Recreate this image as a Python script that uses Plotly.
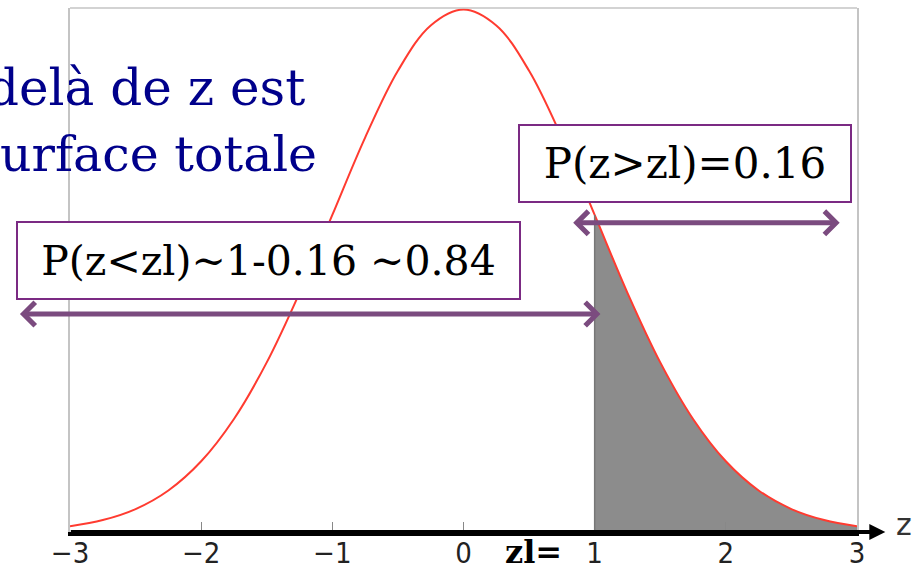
import plotly.graph_objects as go

# z values and density (standard normal curve)
z_values = [-3.0, -2.75, -2.5, -2.25, -2.0, -1.75, -1.5, -1.25, -1.0, -0.75, -0.5, -0.25,
            0.0, 0.25, 0.5, 0.75, 1.0, 1.25, 1.5, 1.75, 2.0, 2.25, 2.5, 2.75, 3.0]
density = [0.0044, 0.0091, 0.0175, 0.0317, 0.0540, 0.0863, 0.1295, 0.1826, 0.2420, 0.3011,
           0.3521, 0.3867, 0.3989, 0.3867, 0.3521, 0.3011, 0.2420, 0.1826, 0.1295, 0.0863,
           0.0540, 0.0317, 0.0175, 0.0091, 0.0044]
z1 = 1.0
tick_values = [-3, -2, -1, 0, 1, 2, 3]
label_upper = "P(z>zl)=0.16"
label_lower = "P(z<zl)~1-0.16 ~0.84"
title_line1 = "delà de z est"
title_line2 = "urface totale"

tail_x = [x for x in z_values if x >= z1]
tail_y = [y for x, y in zip(z_values, density) if x >= z1]

fig = go.Figure()
fig.add_trace(go.Scatter(x=tail_x, y=tail_y, mode="lines", fill="tozeroy",
                         fillcolor="#8c8c8c", line=dict(width=0, shape="spline"),
                         hoverinfo="skip", showlegend=False))
fig.add_trace(go.Scatter(x=z_values, y=density, mode="lines",
                         line=dict(color="#ff3b30", width=2, shape="spline"),
                         showlegend=False))

fig.add_shape(type="line", xref="x", yref="y", x0=z1, x1=z1, y0=0, y1=tail_y[0],
              line=dict(color="#777777", width=1.5))
fig.add_shape(type="line", xref="paper", yref="paper", x0=0, x1=1, y0=1, y1=1,
              line=dict(color="#c4c4c4", width=1.5))

serif = "DejaVu Serif"
purple_arrow = "#7b4b7f"
purple_box = "#7b2a83"
blue = "#00008b"

ann = []
# blue title text (clipped at left edge, as in the source slide)
ann.append(dict(xref="paper", yref="paper", x=-0.108, y=0.848, xanchor="left", yanchor="middle",
                text=title_line1, showarrow=False, font=dict(family=serif, size=50, color=blue)))
ann.append(dict(xref="paper", yref="paper", x=-0.091, y=0.720, xanchor="left", yanchor="middle",
                text=title_line2, showarrow=False, font=dict(family=serif, size=49, color=blue)))
# arrows
ann.append(dict(xref="paper", yref="paper", x=0.674, y=0.416, axref="pixel", ayref="pixel",
                ax=-582, ay=0, text="", showarrow=True, arrowhead=4, startarrowhead=4,
                arrowside="end+start", arrowwidth=5, arrowsize=0.9, startarrowsize=0.9,
                arrowcolor=purple_arrow, standoff=0, startstandoff=0))
ann.append(dict(xref="paper", yref="paper", x=0.978, y=0.590, axref="pixel", ayref="pixel",
                ax=-268, ay=0, text="", showarrow=True, arrowhead=4, startarrowhead=4,
                arrowside="end+start", arrowwidth=5, arrowsize=0.9, startarrowsize=0.9,
                arrowcolor=purple_arrow, standoff=0, startstandoff=0))
# boxes
ann.append(dict(xref="paper", yref="paper", x=0.781, y=0.703, xanchor="center", yanchor="middle",
                text=label_upper, showarrow=False, bgcolor="white", bordercolor=purple_box,
                borderwidth=2, borderpad=0, width=330, height=75,
                font=dict(family=serif, size=42, color="black")))
ann.append(dict(xref="paper", yref="paper", x=0.252, y=0.518, xanchor="center", yanchor="middle",
                text=label_lower, showarrow=False, bgcolor="white", bordercolor=purple_box,
                borderwidth=2, borderpad=0, width=501, height=75,
                font=dict(family=serif, size=41, color="black")))
# x axis arrow
ann.append(dict(xref="paper", yref="paper", x=1.036, y=0, axref="pixel", ayref="pixel",
                ax=-816, ay=0, text="", showarrow=True, arrowhead=2, arrowsize=0.8,
                arrowwidth=4, arrowcolor="black", standoff=0))
ann.append(dict(xref="paper", yref="paper", x=1.0603, y=0.0134, xanchor="center", yanchor="middle",
                text="z", showarrow=False, font=dict(family="DejaVu Sans", size=30, color="#333333")))
ann.append(dict(xref="paper", yref="paper", x=0.589, y=-0.038, xanchor="center", yanchor="middle",
                text="<b>zl=</b>", showarrow=False,
                font=dict(family=serif, size=32, color="black")))

fig.update_layout(
    width=921, height=570,
    margin=dict(l=70, r=64, t=8, b=38, autoexpand=False),
    paper_bgcolor="white", plot_bgcolor="white",
    annotations=ann,
    xaxis=dict(range=[-3, 3], tickvals=tick_values, ticks="inside", ticklen=10,
               tickcolor="#888888", tickwidth=1, showgrid=False, zeroline=False,
               showline=True, linecolor="black", linewidth=4, automargin=False,
               ticklabelstandoff=-8,
               tickfont=dict(family="DejaVu Sans Condensed", size=29, color="#222222")),
    yaxis=dict(range=[0, 0.4], showticklabels=False, ticks="", showgrid=False, automargin=False,
               zeroline=False, showline=True, linecolor="#c4c4c4", linewidth=1.5, mirror=True),
)

fig.write_html("out.html", config={"displayModeBar": False},
               post_script="document.body.style.margin='0';")
